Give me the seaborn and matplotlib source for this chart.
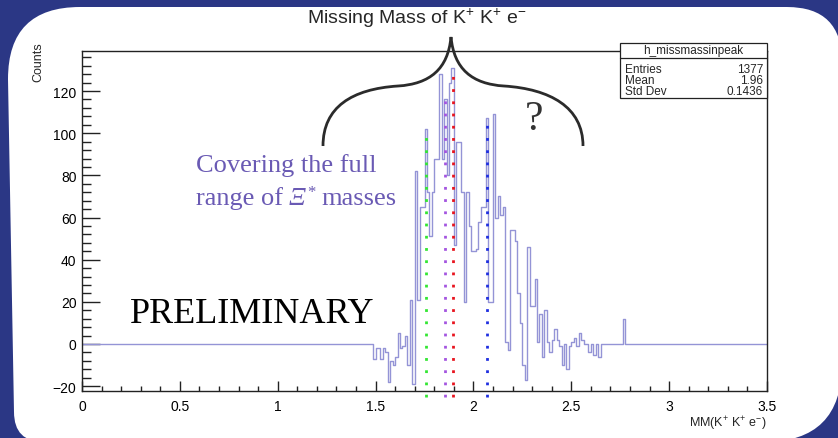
import numpy as np
import pandas as pd
import matplotlib
matplotlib.use("Agg")
import matplotlib.pyplot as plt
import seaborn as sns
from matplotlib.path import Path
from matplotlib.patches import PathPatch, Rectangle
from matplotlib.ticker import MultipleLocator

# ---------------- data ----------------
bin_width = 0.0125
hist_start = 1.475
x_min, x_max = 0.0, 3.5
counts = [0, -7, -2, -2, -7, -2, -4, -18, -8, -10,
          -6, 5, -2, -1, 4, -10, 21, -19, 82, 21,
          65, 65, 102, 72, 51, 72, 88, 88, 128, 88,
          116, 80, 124, 131, 47, 96, 96, 72, 20, 72,
          56, 44, 44, 45, 58, 65, 65, 107, 20, 20,
          109, 60, 70, 61, 65, 1, -3, 54, 54, 49,
          24, 10, -10, -17, 46, 18, 18, 31, 1, 14,
          -6, 16, 1, -4, 2, 7, 2, -1, -10, 0,
          -12, -1, 1, 3, -1, 5, 2, 0, 0, -4,
          0, -5, 0, -6, 0, 0, 0, 0, 0, 0,
          0, 0, 0, 12, 0, 0]
line_masses = [1.758, 1.855, 1.894, 2.071]
line_tops = [102, 116, 131, 104]
line_colors = ["#33e633", "#a455e0", "#e8141e", "#1f2fe0"]
x_ticks = [0, 0.5, 1, 1.5, 2, 2.5, 3, 3.5]
x_tick_labels = ["0", "0.5", "1", "1.5", "2", "2.5", "3", "3.5"]
y_ticks = [-20, 0, 20, 40, 60, 80, 100, 120]
y_limits = (-22.3, 139)
stats_title = "h_missmassinpeak"
stats_labels = ["Entries", "Mean", "Std Dev"]
stats_values = ["1377", "1.96", "0.1436"]
title = r"Missing Mass of K$\mathregular{^{+}}$ K$\mathregular{^{+}}$ e$\mathregular{^{-}}$"
x_title = r"MM(K$\mathregular{^{+}}$ K$\mathregular{^{+}}$ e$\mathregular{^{-}}$)"
y_title = "Counts"

# ---------------- style ----------------
sns.set_style("white")
plt.rcParams["font.family"] = ["Liberation Sans", "DejaVu Sans"]

W, H = 838, 439
fig = plt.figure(figsize=(W / 100, H / 100), dpi=100)
fig.patch.set_facecolor("#2b3785")


def fx(px):
    return px / W


def fy(py):
    return 1 - py / H


# white rounded panel
L_top, L_bot, T, R, B = 8, 14, 8, 842, 443
rTL, rTR, rBR, rBL = 72, 55, 78, 30
verts = [
    (L_top, T + rTL), (L_top, T), (L_top + rTL, T),
    (R - rTR, T), (R, T), (R, T + rTR),
    (R, B - rBR), (R, B), (R - rBR, B),
    (L_bot + rBL, B), (L_bot, B), (L_bot, B - rBL),
    (L_top, T + rTL),
]
codes = [Path.MOVETO, Path.CURVE3, Path.CURVE3,
         Path.LINETO, Path.CURVE3, Path.CURVE3,
         Path.LINETO, Path.CURVE3, Path.CURVE3,
         Path.LINETO, Path.CURVE3, Path.CURVE3,
         Path.CLOSEPOLY]
panel = PathPatch(Path([(fx(a), fy(b)) for a, b in verts], codes),
                  facecolor="white", edgecolor="none",
                  transform=fig.transFigure, zorder=-5)
fig.patches.append(panel)

ax = fig.add_axes([fx(82), fy(392), (767 - 82) / W, (392 - 52) / H])
ax.set_zorder(1)
ax.set_facecolor("white")

edges = np.linspace(x_min, x_max, int(round((x_max - x_min) / bin_width)) + 1).tolist()
centers = hist_start + bin_width * (np.arange(len(counts)) + 0.5)
df = pd.DataFrame({"mass": centers, "counts": counts})
sns.histplot(data=df, x="mass", weights="counts", bins=edges,
             element="step", fill=False, color="#9494d6",
             linewidth=1.0, ax=ax)

for m, top, c in zip(line_masses, line_tops, line_colors):
    ax.plot([m, m], [-25, top], linestyle=(0, (1, 3.4)), linewidth=2.0,
            color=c, clip_on=False, zorder=3)

ax.set_xlim(x_min, x_max)
ax.set_ylim(*y_limits)
ax.set_xticks(x_ticks)
ax.set_xticklabels(x_tick_labels)
ax.set_yticks(y_ticks)
ax.xaxis.set_minor_locator(MultipleLocator(0.1))
ax.yaxis.set_minor_locator(MultipleLocator(4))
ax.set_xlabel("")
ax.set_ylabel("")
for s in ax.spines.values():
    s.set_visible(True)
    s.set_color("#222222")
    s.set_linewidth(1.0)
ax.tick_params(axis="y", which="major", direction="in", length=13,
               width=1, pad=4, labelsize=10, left=True, colors="#222222",
               labelcolor="black")
ax.tick_params(axis="y", which="minor", direction="in", length=6.5,
               width=1, left=True, colors="#222222")
ax.tick_params(axis="x", which="major", direction="in", length=7,
               width=1, pad=6, labelsize=10, bottom=True, colors="#222222",
               labelcolor="black")
ax.tick_params(axis="x", which="minor", direction="in", length=3.5,
               width=1, bottom=True, colors="#222222")

# titles
fig.text(fx(417), fy(18), title, ha="center", va="center", fontsize=14)
fig.text(fx(767), fy(424), x_title, ha="right", va="center", fontsize=9)
fig.text(fx(38), fy(42), y_title, ha="center", va="top", rotation=90,
         fontsize=9)

# stats box
bx0, bx1, by0, by1, bdiv = 620, 767, 44, 99, 59
fig.patches.append(Rectangle((fx(bx0), fy(by1)), (bx1 - bx0) / W,
                             (by1 - by0) / H, transform=fig.transFigure,
                             facecolor="white", edgecolor="#222222",
                             linewidth=0.9, zorder=5))
fig.add_artist(plt.Line2D([fx(bx0), fx(bx1)], [fy(bdiv), fy(bdiv)],
                          transform=fig.transFigure, color="#222222",
                          linewidth=0.9, zorder=6))
fig.text(fx((bx0 + bx1) / 2), fy(54), stats_title, ha="center",
         va="baseline", fontsize=8.5, zorder=7)
for i, (lab, val) in enumerate(zip(stats_labels, stats_values)):
    yb = 73 + 11 * i
    fig.text(fx(bx0 + 5), fy(yb), lab, ha="left", va="baseline",
             fontsize=8.5, zorder=7)
    fig.text(fx(bx1 - 4), fy(yb), val, ha="right", va="baseline",
             fontsize=8.5, zorder=7)

# curly brace
bverts = [(323, 147), (323, 108), (352, 90), (398, 87),
          (430, 85), (448, 70), (451, 38),
          (454, 70), (472, 85), (504, 87),
          (550, 90), (583, 108), (583, 147)]
bcodes = [Path.MOVETO, Path.CURVE4, Path.CURVE4, Path.CURVE4,
          Path.CURVE4, Path.CURVE4, Path.CURVE4,
          Path.CURVE4, Path.CURVE4, Path.CURVE4,
          Path.CURVE4, Path.CURVE4, Path.CURVE4]
brace = PathPatch(Path([(fx(a), fy(b)) for a, b in bverts], bcodes),
                  facecolor="none", edgecolor="#2b2b2b", linewidth=2,
                  transform=fig.transFigure, zorder=8)
fig.add_artist(brace)

fig.text(fx(534), fy(120), "?", ha="center", va="center", fontsize=30,
         family="Liberation Serif", color="#333333", zorder=8)

purple = "#6a5ab4"
serif = "Liberation Serif"
fig.text(fx(196), fy(172), "Covering the full", ha="left",
         va="baseline", fontsize=19, family=serif, color=purple, zorder=8)

renderer = fig.canvas.get_renderer()
base2 = fy(205)
t_a = fig.text(fx(196), base2, "range of", ha="left", va="baseline",
               fontsize=19, family=serif, color=purple, zorder=8)
xa = t_a.get_window_extent(renderer).x1 + 6
t_b = fig.text(xa / W, base2, "\u039e", ha="left", va="baseline",
               fontsize=19, family=serif, style="italic", color=purple,
               zorder=8)
xb = t_b.get_window_extent(renderer).x1 + 1
t_c = fig.text(xb / W, fy(197), "*", ha="left", va="baseline",
               fontsize=12, family=serif, color=purple, zorder=8)
xc = t_c.get_window_extent(renderer).x1 + 6
fig.text(xc / W, base2, "masses", ha="left", va="baseline",
         fontsize=19, family=serif, color=purple, zorder=8)

fig.text(fx(130), fy(323), "PRELIMINARY", ha="left", va="baseline",
         fontsize=26, family=serif, color="black", zorder=8)

fig.savefig("out.png", dpi=100, facecolor=fig.get_facecolor())
